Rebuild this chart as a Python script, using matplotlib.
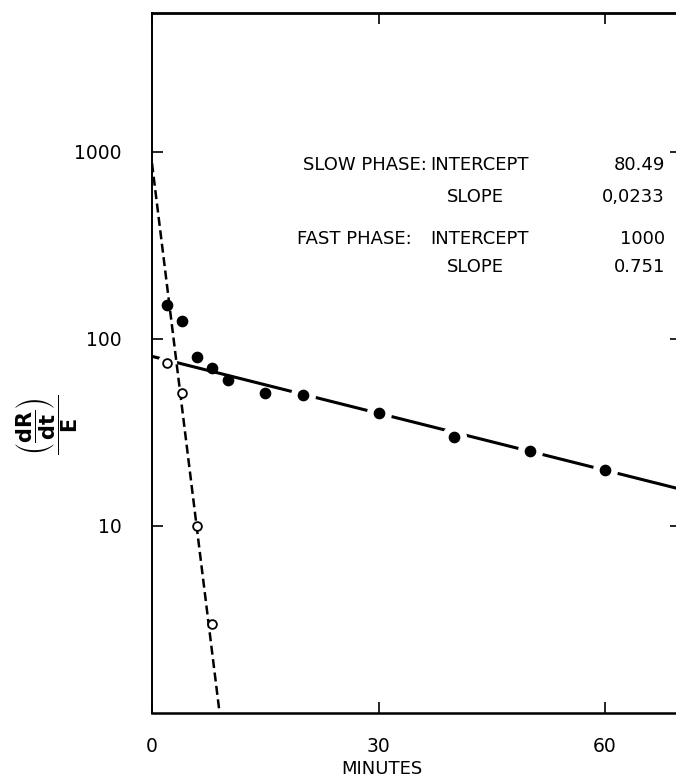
import matplotlib
matplotlib.use('Agg')
import matplotlib.pyplot as plt
import numpy as np
from matplotlib.ticker import NullLocator

plt.rcParams['font.family'] = 'DejaVu Sans'
plt.rcParams['mathtext.fontset'] = 'dejavusans'

# filled circles: whole response, open circles: fast phase (residuals)
t_total = [2, 4, 6, 8, 10, 15, 20, 30, 40, 50, 60]
v_total = [152, 124, 80, 70, 60, 51, 50, 40, 30, 25, 20]
t_fast = [2, 4, 6, 8]
v_fast = [74, 51, 10, 3]

# fitted lines, end points
slow_t = [0, 70]
slow_v = [80.49, 15.7]
fast_t = [0, 8.9]
fast_v = [865, 1.04]

xticks = [0, 30, 60]
yticks = [10, 100, 1000]

rows = [('SLOW PHASE:', 'INTERCEPT', '80.49'),
        ('', 'SLOPE', '0,0233'),
        ('FAST PHASE:', 'INTERCEPT', '1000'),
        ('', 'SLOPE', '0.751')]

W, H = 676, 780
def fx(x): return x / W
def fy(y): return 1 - y / H

fig = plt.figure(figsize=(6.76, 7.8), dpi=100)
ax = fig.add_axes([fx(152), fy(713), 528.5 / W, 700 / H])
ax.set_yscale('log')
ax.set_xlim(0, 70)
ax.set_ylim(1, 5500)

# slow phase line with gaps around the points lying on it
ax.plot(slow_t, slow_v, '-', color='black', lw=2.2, zorder=1, solid_capstyle='butt')
t_arr = np.array(t_total)
v_arr = np.array(v_total)
on_line = t_arr >= 20
ax.plot(t_arr[on_line], v_arr[on_line], 'o', ms=17, color='white', mec='white', zorder=2)
ax.plot([t_fast[0]], [v_fast[0]], 'o', ms=13, color='white', mec='white', zorder=2)

ax.plot(fast_t, fast_v, color='black', lw=1.8, dashes=(3.6, 1.8), zorder=3)

ax.plot(t_total, v_total, 'o', ms=7.4, color='black', zorder=4)
ax.plot(t_fast, v_fast, 'o', ms=6.3, mfc='white', mec='black', mew=1.3, zorder=4)

ax.set_xticks(xticks)
ax.set_xticklabels([str(v) for v in xticks])
ax.set_yticks(yticks)
ax.set_yticklabels([str(v) for v in yticks])
ax.yaxis.set_minor_locator(NullLocator())
ax.tick_params(axis='both', direction='in', top=True, right=True,
               length=8, width=1.2, labelsize=13.5)
ax.tick_params(axis='y', pad=22)
ax.tick_params(axis='x', pad=17)
ax.spines['left'].set_linewidth(1.4)
ax.spines['bottom'].set_linewidth(1.8)
ax.spines['top'].set_linewidth(2.0)
ax.spines['right'].set_linewidth(1.6)

fig.text(fx(382), fy(769), 'MINUTES', ha='center', va='center', fontsize=13)
fig.text(fx(47), fy(425), r'$\dfrac{\left(\dfrac{\mathbf{dR}}{\mathbf{dt}}\right)}{\mathbf{E}}$',
         rotation=90, ha='center', va='center', fontsize=15)

# fitted parameters
row_y = [165, 197, 239, 267]
for (a, b, c), y in zip(rows, row_y):
    if a:
        fig.text(fx(303 if a.startswith('SLOW') else 297), fy(y), a, ha='left', va='center', fontsize=13)
    fig.text(fx(447 if b == 'SLOPE' else 430), fy(y), b, ha='left', va='center', fontsize=13)
    fig.text(fx(665), fy(y), c, ha='right', va='center', fontsize=13)

fig.savefig('out.png', dpi=100)
